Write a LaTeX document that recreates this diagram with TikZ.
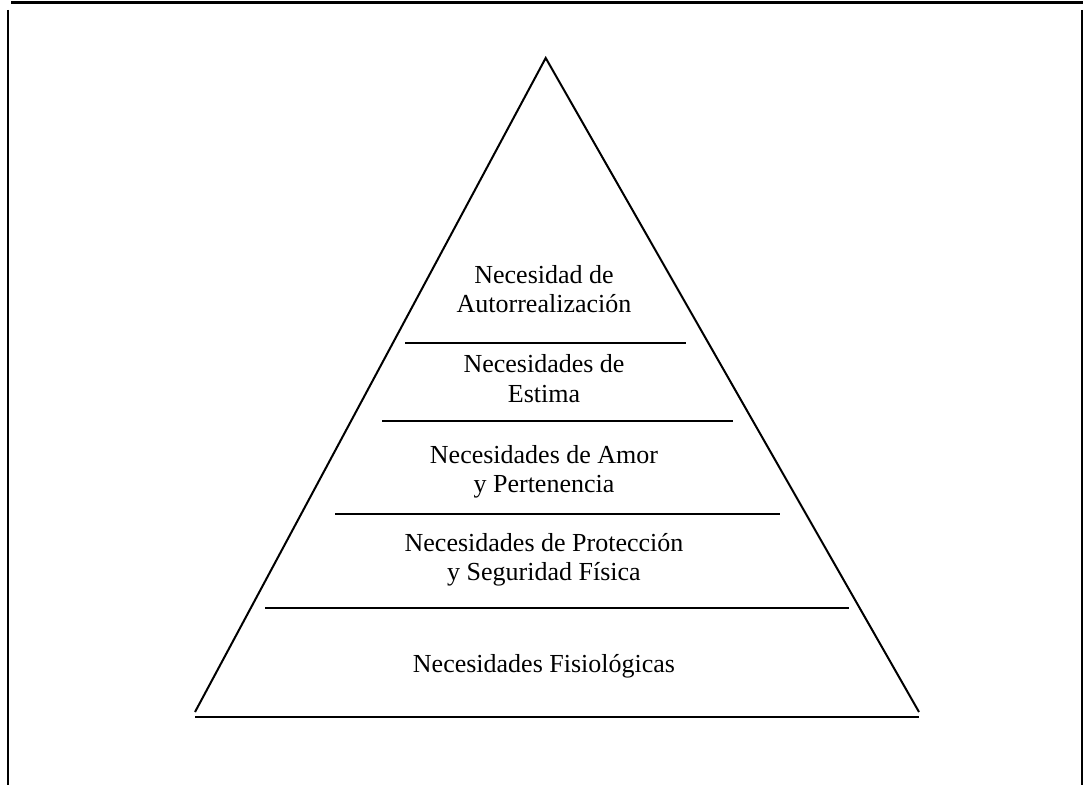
\documentclass[tikz,border=0pt]{standalone}
\usepackage{fontspec}
\setmainfont{Liberation Serif}
\usepackage{tikz}
\usetikzlibrary{positioning}

\begin{document}
\begin{tikzpicture}[x=0.5pt,y=-0.5pt,
  boxline/.style={line width=1.2pt},
  tier/.style={line width=1pt},
  tiertext/.style={font=\fontsize{13}{14.5}\selectfont,align=center,anchor=base}]
\useasboundingbox (0,0) rectangle (1085,785);
\path coordinate (tl) at (11,2.5)
      coordinate (tr) at (1083,2.5)
      coordinate (lt) at (8,10)
      coordinate (lb) at (8,785)
      coordinate (rt) at (1082,10)
      coordinate (rb) at (1082,785);
\draw[boxline] (tl) -- (tr);
\draw[boxline] (lt) -- (lb);
\draw[boxline] (rt) -- (rb);
\path coordinate (apex) at (545.7,58)
      coordinate (bl) at (195,712)
      coordinate (br) at (919,712);
\draw[tier] (bl) -- (apex) -- (br);
\draw[tier] (405,343.3) -- (686,343.3);
\draw[tier] (382,421.5) -- (733,421.5);
\draw[tier] (335,514.3) -- (780,514.3);
\draw[tier] (265,608) -- (849,608);
\draw[tier] (195,717) -- (919,717);
\node[tiertext] (autorrealizacion) at (544,313) {Necesidad de\\Autorrealización};
\node[tiertext] (estima) at (544,402) {Necesidades de\\Estima};
\node[tiertext] (amor) at (544,492) {Necesidades de Amor\\y Pertenencia};
\node[tiertext] (proteccion) at (544,580) {Necesidades de Protección\\y Seguridad Física};
\node[tiertext] (fisiologicas) at (544,672) {Necesidades Fisiológicas};
\end{tikzpicture}
\end{document}
